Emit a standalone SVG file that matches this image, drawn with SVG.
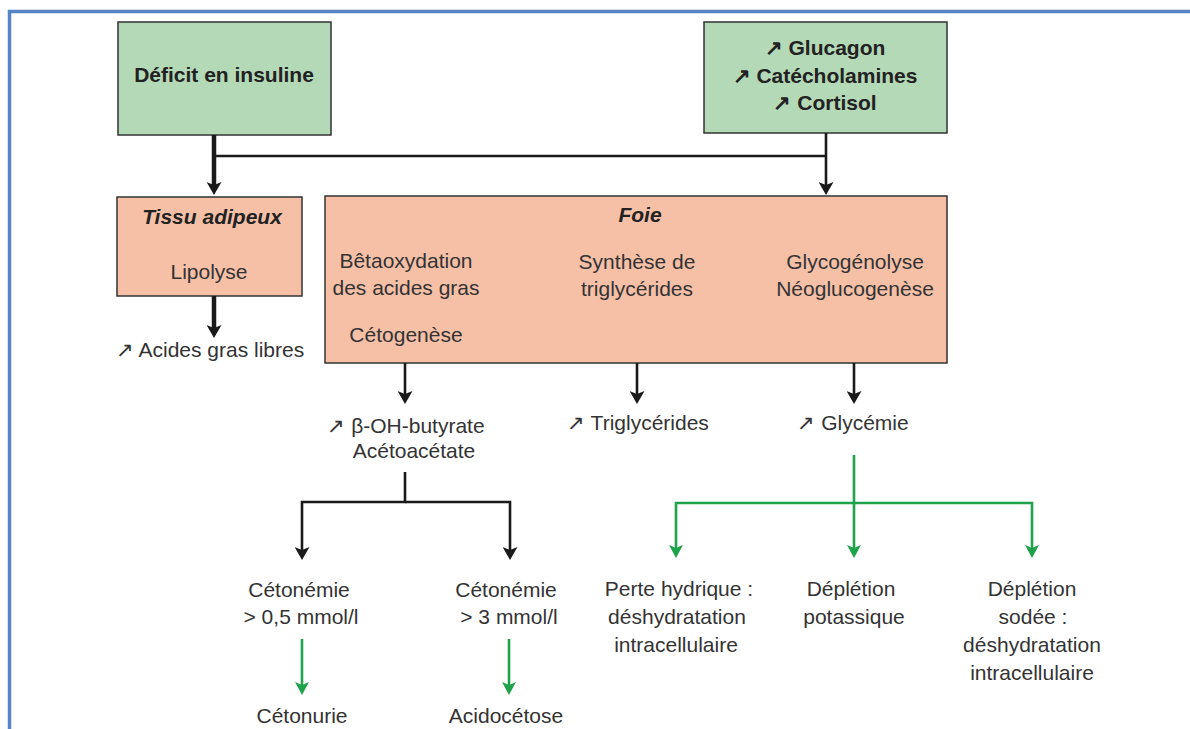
<svg xmlns="http://www.w3.org/2000/svg" width="1190" height="729" viewBox="0 0 1190 729">
<defs>
<style>
.t{font-family:"Liberation Sans",Arial,sans-serif;font-size:21px;fill:#333;text-anchor:middle}
.b{font-weight:bold;fill:#222}
.bi{font-weight:bold;font-style:italic;fill:#222}
.g{fill:#b4d9b6;stroke:#333;stroke-width:1.5}
.s{fill:#f6c0a7;stroke:#333;stroke-width:1.5}
.k{fill:none;stroke:#1a1a1a;stroke-width:2.6}
.kt{fill:none;stroke:#1a1a1a;stroke-width:4.5}
.gr{fill:none;stroke:#1fa34a;stroke-width:2.6}
</style>
<marker id="ak" markerUnits="userSpaceOnUse" markerWidth="14" markerHeight="15" refX="3" refY="7.5" orient="auto" viewBox="0 0 14 15">
<path d="M0,0 L13,7.5 L0,15 L3,7.5 z" fill="#1a1a1a"/>
</marker>
<marker id="ag" markerUnits="userSpaceOnUse" markerWidth="14" markerHeight="14" refX="3" refY="7" orient="auto" viewBox="0 0 14 14">
<path d="M0,0 L13,7 L0,14 L3,7 z" fill="#1fa34a"/>
</marker>
</defs>
<rect width="1190" height="729" fill="#fff"/>
<path d="M9.5,729 V11.5 H1190" fill="none" stroke="#5585c5" stroke-width="3.5"/>

<g id="deficit">
<rect class="g" x="118" y="22" width="213" height="113"/>
<text class="t b" x="224" y="82">Déficit en insuline</text>
</g>
<g id="hormones">
<rect class="g" x="704" y="22" width="243" height="111"/>
<text class="t b" x="825" y="55">↗ Glucagon</text>
<text class="t b" x="825" y="83">↗ Catécholamines</text>
<text class="t b" x="825" y="110">↗ Cortisol</text>
</g>
<g id="tissu">
<rect class="s" x="117" y="197" width="185" height="99"/>
<text class="t bi" x="212" y="224">Tissu adipeux</text>
<text class="t" x="209" y="279">Lipolyse</text>
</g>
<g id="foie">
<rect class="s" x="325" y="196" width="622" height="167"/>
<text class="t bi" x="640" y="222">Foie</text>
<text class="t" x="406" y="268">Bêtaoxydation</text>
<text class="t" x="406" y="295">des acides gras</text>
<text class="t" x="406" y="342">Cétogenèse</text>
<text class="t" x="637" y="269">Synthèse de</text>
<text class="t" x="637" y="296">triglycérides</text>
<text class="t" x="855" y="269">Glycogénolyse</text>
<text class="t" x="855" y="296">Néoglucogenèse</text>
</g>
<g id="agl"><text class="t" x="210" y="357">↗ Acides gras libres</text></g>
<g id="cetones">
<text class="t" x="406" y="433">↗ β-OH-butyrate</text>
<text class="t" x="414" y="458">Acétoacétate</text>
</g>
<g id="tg"><text class="t" x="638" y="430">↗ Triglycérides</text></g>
<g id="glycemie"><text class="t" x="853" y="430">↗ Glycémie</text></g>
<g id="cet05">
<text class="t" x="299" y="597">Cétonémie</text>
<text class="t" x="301" y="624">&gt; 0,5 mmol/l</text>
</g>
<g id="cet3">
<text class="t" x="506" y="597">Cétonémie</text>
<text class="t" x="509" y="624">&gt; 3 mmol/l</text>
</g>
<g id="cetonurie"><text class="t" x="302" y="723">Cétonurie</text></g>
<g id="acidocetose"><text class="t" x="506" y="723">Acidocétose</text></g>
<g id="perte">
<text class="t" x="679" y="596">Perte hydrique :</text>
<text class="t" x="677" y="624">déshydratation</text>
<text class="t" x="676" y="652">intracellulaire</text>
</g>
<g id="potassique">
<text class="t" x="851" y="596">Déplétion</text>
<text class="t" x="854" y="624">potassique</text>
</g>
<g id="sodee">
<text class="t" x="1032" y="596">Déplétion</text>
<text class="t" x="1033" y="624">sodée :</text>
<text class="t" x="1032" y="652">déshydratation</text>
<text class="t" x="1032" y="680">intracellulaire</text>
</g>

<g id="connectors">
<path class="kt" d="M214,135 V185" marker-end="url(#ak)"/>
<path class="k" d="M214,156 H826"/>
<path class="k" d="M826,133 V185" marker-end="url(#ak)"/>
<path class="kt" d="M214,296 V328" marker-end="url(#ak)"/>
<path class="k" d="M405,363 V394" marker-end="url(#ak)"/>
<path class="k" d="M637,363 V394" marker-end="url(#ak)"/>
<path class="k" d="M854,363 V394" marker-end="url(#ak)"/>
<path class="k" d="M405,472 V502 H302 V550" marker-end="url(#ak)"/>
<path class="k" d="M405,502 H510 V550" marker-end="url(#ak)"/>
<path class="gr" d="M854,455 V503 H676 V548" marker-end="url(#ag)"/>
<path class="gr" d="M854,503 V548" marker-end="url(#ag)"/>
<path class="gr" d="M854,503 H1032 V548" marker-end="url(#ag)"/>
<path class="gr" d="M302,639 V685" marker-end="url(#ag)"/>
<path class="gr" d="M509,639 V685" marker-end="url(#ag)"/>
</g>
</svg>
